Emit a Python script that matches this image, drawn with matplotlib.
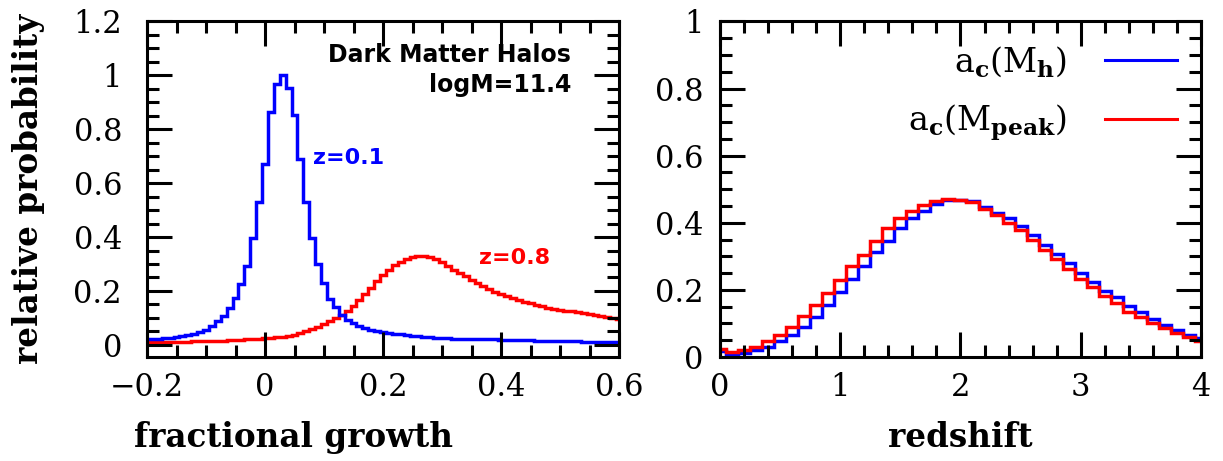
import numpy as np
import matplotlib
matplotlib.use("Agg")
import matplotlib.pyplot as plt
from matplotlib.ticker import MultipleLocator, FuncFormatter
from matplotlib.lines import Line2D

# ---- fractional growth histograms (bin width 0.01, centres -0.20 ... 0.60) ----
growth_bin_width = 0.01
growth_centers = np.round(np.arange(-20, 61) * growth_bin_width, 2)

growth_z01 = [
    0.021, 0.022, 0.023, 0.025, 0.027, 0.029, 0.032, 0.035, 0.040, 0.048,
    0.057, 0.069, 0.088, 0.108, 0.138, 0.175, 0.226, 0.294, 0.396, 0.532,
    0.670, 0.865, 0.968, 1.000, 0.952, 0.853, 0.690, 0.532, 0.396, 0.300,
    0.229, 0.169, 0.140, 0.112, 0.094, 0.080, 0.070, 0.063, 0.057, 0.052,
    0.048, 0.045, 0.042, 0.040, 0.038, 0.034, 0.032, 0.030, 0.028, 0.026,
    0.025, 0.024, 0.023, 0.022, 0.022, 0.021, 0.021, 0.020, 0.020, 0.020,
    0.019, 0.019, 0.018, 0.018, 0.017, 0.017, 0.016, 0.016, 0.015, 0.015,
    0.014, 0.014, 0.013, 0.013, 0.012, 0.012, 0.011, 0.011, 0.010, 0.010,
    0.009,
]

growth_z08 = [
    0.009, 0.009, 0.010, 0.010, 0.011, 0.011, 0.012, 0.012, 0.013, 0.013,
    0.014, 0.015, 0.015, 0.016, 0.017, 0.018, 0.019, 0.020, 0.021, 0.022,
    0.024, 0.026, 0.028, 0.031, 0.034, 0.038, 0.044, 0.052, 0.060, 0.068,
    0.077, 0.087, 0.099, 0.112, 0.127, 0.145, 0.165, 0.188, 0.212, 0.236,
    0.258, 0.278, 0.295, 0.308, 0.320, 0.327, 0.330, 0.328, 0.325, 0.318,
    0.306, 0.292, 0.278, 0.266, 0.256, 0.242, 0.228, 0.218, 0.207, 0.196,
    0.187, 0.180, 0.173, 0.166, 0.160, 0.154, 0.148, 0.143, 0.138, 0.134,
    0.131, 0.127, 0.124, 0.121, 0.117, 0.114, 0.111, 0.107, 0.104, 0.100,
    0.096,
]

# ---- formation redshift histograms (bin width 0.1, centres 0.0 ... 4.0) ----
redshift_bin_width = 0.1
redshift_centers = np.round(np.arange(0, 41) * redshift_bin_width, 2)

ac_mh = [
    0.018, 0.008, 0.012, 0.020, 0.030, 0.047, 0.067, 0.088, 0.120, 0.155,
    0.193, 0.233, 0.270, 0.313, 0.345, 0.383, 0.413, 0.435, 0.455, 0.467,
    0.467, 0.465, 0.447, 0.430, 0.413, 0.390, 0.363, 0.335, 0.307, 0.280,
    0.250, 0.225, 0.198, 0.178, 0.153, 0.133, 0.113, 0.095, 0.080, 0.067,
    0.057,
]

ac_mpeak = [
    0.023, 0.015, 0.020, 0.030, 0.047, 0.067, 0.088, 0.121, 0.155, 0.190,
    0.230, 0.270, 0.305, 0.345, 0.383, 0.413, 0.435, 0.452, 0.464, 0.470,
    0.467, 0.461, 0.440, 0.423, 0.400, 0.380, 0.350, 0.320, 0.292, 0.263,
    0.232, 0.210, 0.182, 0.160, 0.135, 0.120, 0.100, 0.085, 0.073, 0.060,
    0.048,
]

left_xticks = [-0.2, 0.0, 0.2, 0.4, 0.6]
left_yticks = [0.0, 0.2, 0.4, 0.6, 0.8, 1.0, 1.2]
right_xticks = [0, 1, 2, 3, 4]
right_yticks = [0.0, 0.2, 0.4, 0.6, 0.8, 1.0]

BLUE = "#0000ff"
RED = "#ff0000"
SERIF = "DejaVu Serif"

plt.rcParams["mathtext.fontset"] = "dejavuserif"
plt.rcParams["font.family"] = SERIF


def edges_from_centers(centers, width):
    c = np.asarray(centers, dtype=float)
    return np.append(c - width / 2.0, c[-1] + width / 2.0)


def tick_fmt(v, pos):
    v = round(v, 6)
    if v == 0:
        return "0"
    return f"{v:g}".replace("-", "\u2212")


def style_axes(ax, xmajor, xminor, ymajor, yminor, ypad):
    for sp in ax.spines.values():
        sp.set_linewidth(2.2)
    ax.xaxis.set_major_locator(MultipleLocator(xmajor))
    ax.xaxis.set_minor_locator(MultipleLocator(xminor))
    ax.yaxis.set_major_locator(MultipleLocator(ymajor))
    ax.yaxis.set_minor_locator(MultipleLocator(yminor))
    ax.xaxis.set_major_formatter(FuncFormatter(tick_fmt))
    ax.yaxis.set_major_formatter(FuncFormatter(tick_fmt))
    ax.tick_params(which="both", direction="in", top=True, right=True,
                   width=2.2, color="black")
    ax.tick_params(which="major", length=18)
    ax.tick_params(which="minor", length=8.5)
    ax.tick_params(axis="y", which="major", pad=ypad, labelsize=22)
    ax.tick_params(axis="x", which="major", pad=11, labelsize=22)


fig = plt.figure(figsize=(12.23, 4.61), dpi=100)
axL = fig.add_axes([0.1202, 0.2256, 0.386, 0.7278])
axR = fig.add_axes([0.5887, 0.2256, 0.3933, 0.7278])

# ---- left panel: fractional growth ----
gedges = edges_from_centers(growth_centers, growth_bin_width)
axL.stairs(growth_z08, gedges, baseline=None, color=RED, lw=2.5)
axL.stairs(growth_z01, gedges, baseline=None, color=BLUE, lw=2.5)
axL.set_xlim(-0.2, 0.6)
axL.set_ylim(-0.045, 1.2)
style_axes(axL, 0.2, 0.05, 0.2, 0.05, 18)
axL.set_xticks(left_xticks)
axL.set_yticks(left_yticks)
axL.set_xlabel("fractional growth", fontsize=23.5, fontweight="bold")
axL.xaxis.set_label_coords(0.311, -0.19)
axL.set_ylabel("relative probability", fontsize=23.5, fontweight="bold")
axL.yaxis.set_label_coords(-0.216, 0.5)

axL.text(0.519, 1.076, "Dark Matter Halos", ha="right", va="center",
         fontsize=17, fontweight="bold", family="DejaVu Sans")
axL.text(0.519, 0.964, "logM=11.4", ha="right", va="center",
         fontsize=17, fontweight="bold", family="DejaVu Sans")
axL.text(0.082, 0.694, "z=0.1", ha="left", va="center", color=BLUE,
         fontsize=16, fontweight="bold", family="DejaVu Sans")
axL.text(0.362, 0.323, "z=0.8", ha="left", va="center", color=RED,
         fontsize=16, fontweight="bold", family="DejaVu Sans")

# ---- right panel: formation redshift ----
zedges = edges_from_centers(redshift_centers, redshift_bin_width)
axR.stairs(ac_mh, zedges, baseline=None, color=BLUE, lw=2.5)
axR.stairs(ac_mpeak, zedges, baseline=None, color=RED, lw=2.5)
axR.set_xlim(0, 4)
axR.set_ylim(0, 1)
style_axes(axR, 1, 0.2, 0.2, 0.05, 12)
axR.set_xticks(right_xticks)
axR.set_yticks(right_yticks)
axR.set_xlabel("redshift", fontsize=23.5, fontweight="bold")
axR.xaxis.set_label_coords(0.5, -0.19)

handles = [Line2D([], [], color=BLUE, lw=2.2), Line2D([], [], color=RED, lw=2.2)]
labels = [r"$\mathrm{a}_{\mathbf{c}}(\mathrm{M}_{\mathbf{h}})$",
          r"$\mathrm{a}_{\mathbf{c}}(\mathrm{M}_{\mathbf{peak}})$"]
axR.legend(handles, labels, loc="upper right", bbox_to_anchor=(0.977, 0.972),
           frameon=False, markerfirst=False, fontsize=24,
           handlelength=2.15, handletextpad=1.15, labelspacing=0.7,
           borderaxespad=0.0)

fig.savefig("out.png", dpi=100)
